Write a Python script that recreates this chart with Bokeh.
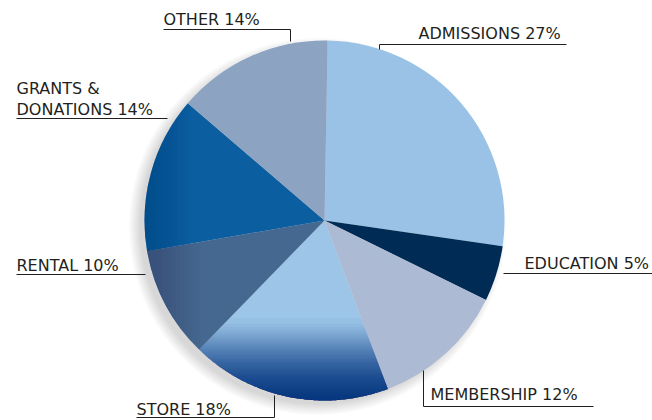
import numpy as np
from bokeh.plotting import figure
from bokeh.models import Range1d
from bokeh.core.properties import value
from bokeh.embed import file_html
from bokeh.resources import INLINE

# ---- data ----
categories = ["ADMISSIONS", "EDUCATION", "MEMBERSHIP", "STORE", "RENTAL", "GRANTS & DONATIONS", "OTHER"]
shares = [27, 5, 12, 18, 10, 14, 14]
label_lines = [["ADMISSIONS  27%"], ["EDUCATION 5%"], ["MEMBERSHIP 12%"], ["STORE 18%"],
               ["RENTAL 10%"], ["GRANTS &", "DONATIONS 14%"], ["OTHER 14%"]]
colors = ["#99C2E6", "#002B55", "#ACBAD4", "#9CC5E8", "#456890", "#0B5EA0", "#8CA3C2"]

# ---- layout (reference pixel coords; y measured from top) ----
W, H = 652, 420
CX, CY, R = 324, 220, 180
START_DEG = 89.0
TEXT_SHIFT = 4  # px upward correction of rendered text baseline

def Y(py):
    return H - py

label_pos = {
    "ADMISSIONS": [(418, 37)],
    "EDUCATION": [(524, 267)],
    "MEMBERSHIP": [(430, 398)],
    "STORE": [(136, 413)],
    "RENTAL": [(16, 269)],
    "GRANTS & DONATIONS": [(16, 92), (16, 113)],
    "OTHER": [(163, 23)],
}
leaders = {
    "ADMISSIONS": [(566, 44), (379, 44), (379, 49)],
    "EDUCATION": [(503, 273), (652, 273)],
    "MEMBERSHIP": [(593, 406), (423, 406), (423, 370)],
    "STORE": [(136, 417), (274, 417), (274, 395)],
    "RENTAL": [(16, 274), (145, 274)],
    "GRANTS & DONATIONS": [(16, 118), (167, 118)],
    "OTHER": [(163, 29), (290, 29), (290, 41)],
}

p = figure(width=W, height=H, output_backend="svg", toolbar_location=None,
           x_range=Range1d(0, W), y_range=Range1d(0, H), min_border=0)
p.axis.visible = False
p.grid.visible = False
p.outline_line_color = None
p.background_fill_color = "white"

# soft shadow (toward lower left)
for rr in np.arange(178, 190, 1.5):
    p.circle(x=CX - 7, y=Y(CY) - 6, radius=rr, fill_color="black", fill_alpha=0.02,
             line_color=None)

# slices
total = float(sum(shares))
cum = np.concatenate([[0], np.cumsum(shares)])
starts = np.radians(START_DEG - cum[:-1] / total * 360.0)
ends = np.radians(START_DEG - cum[1:] / total * 360.0)

p.wedge(x=CX, y=Y(CY), radius=R, start_angle=starts, end_angle=ends, direction="clock",
        fill_color=colors, line_color=None)


def sector_poly(i):
    th = np.linspace(starts[i], ends[i], 80)
    xs = [CX] + list(CX + R * np.cos(th))
    ys = [Y(CY)] + list(Y(CY) + R * np.sin(th))
    return list(zip(xs, ys))


def clip(poly, inside, inter):
    out = []
    n = len(poly)
    for k in range(n):
        a, b = poly[k], poly[(k + 1) % n]
        ia, ib = inside(a), inside(b)
        if ia:
            out.append(a)
        if ia != ib:
            out.append(inter(a, b))
    return out


def shade_below(i, levels, color, final):
    poly = sector_poly(i)
    a = 1 - (1 - final) ** (1.0 / len(levels))
    for t in levels:
        yt = Y(t)
        pc = clip(poly, lambda q: q[1] <= yt,
                  lambda q1, q2: (q1[0] + (yt - q1[1]) * (q2[0] - q1[0]) / (q2[1] - q1[1]), yt))
        if len(pc) >= 3:
            p.patch(x=[q[0] for q in pc], y=[q[1] for q in pc], fill_color=color,
                    fill_alpha=a, line_color=None)


def shade_left(i, px_from, px_to, n, color, final):
    poly = sector_poly(i)
    a = 1 - (1 - final) ** (1.0 / n)
    for t in np.linspace(px_from, px_to, n):
        pc = clip(poly, lambda q: q[0] <= t,
                  lambda q1, q2: (t, q1[1] + (t - q1[0]) * (q2[1] - q1[1]) / (q2[0] - q1[0])))
        if len(pc) >= 3:
            p.patch(x=[q[0] for q in pc], y=[q[1] for q in pc], fill_color=color,
                    fill_alpha=a, line_color=None)


u = np.linspace(0, 1, 60)
shade_below(categories.index("STORE"), 318 + 84 * u ** (1 / 1.5), "#003C78", 0.9)
shade_left(categories.index("RENTAL"), 200, 146, 14, "#1E3A60", 0.3)
shade_left(categories.index("GRANTS & DONATIONS"), 190, 144, 12, "#003F7A", 0.35)

# leaders and labels
for cat, lines in zip(categories, label_lines):
    pts = leaders[cat]
    p.line(x=[a for a, b in pts], y=[Y(b) for a, b in pts], line_color="#231F20", line_width=1)
    for txt, (tx, ty) in zip(lines, label_pos[cat]):
        p.text(x=[tx], y=[Y(ty - TEXT_SHIFT)], text=[txt], text_font=value("DejaVu Sans"),
               text_font_size="16px", text_color="#231F20",
               text_align="left", text_baseline="alphabetic")

open("out.html", "w").write(file_html(p, INLINE))
